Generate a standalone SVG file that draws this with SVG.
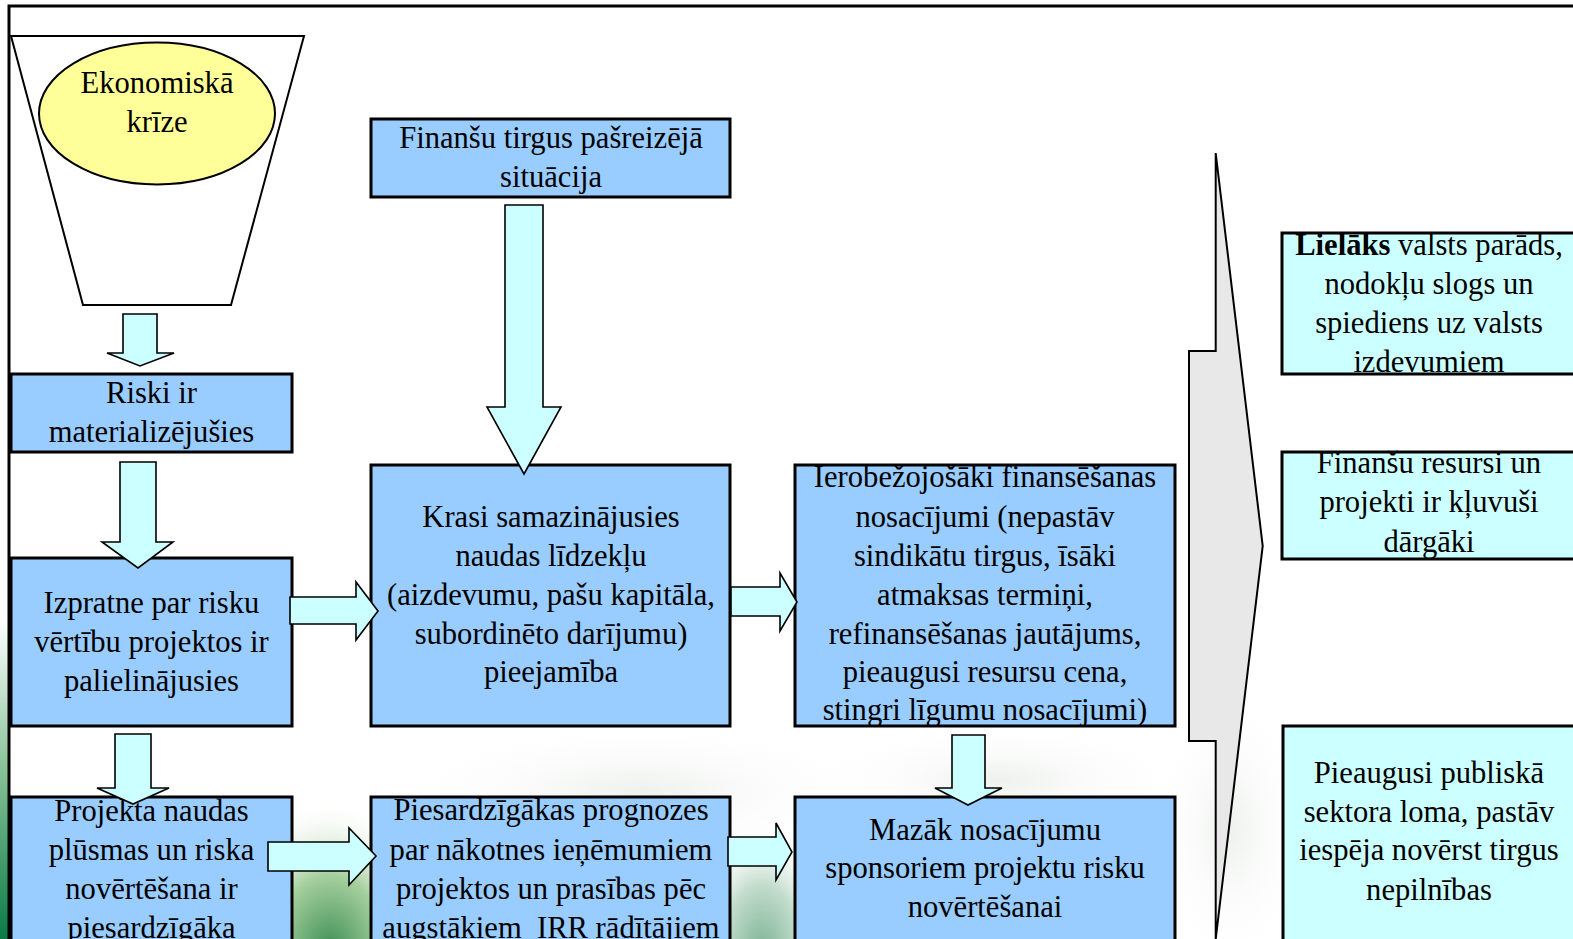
<svg xmlns="http://www.w3.org/2000/svg" width="1573" height="939" viewBox="0 0 1573 939">
<defs>
<style>
.box{fill:#99CCFF;stroke:#000;stroke-width:3}
.rbox{fill:#CCFFFF;stroke:#000;stroke-width:3}
.arr{fill:#CCFFFF;stroke:#000;stroke-width:1.6;stroke-linejoin:miter}
.t{font-family:"Liberation Serif","Times New Roman",serif;font-size:30.6px;fill:#000;text-anchor:middle}
</style>
<linearGradient id="gLeft" x1="0" y1="0" x2="0" y2="1">
<stop offset="0" stop-color="#ffffff"/>
<stop offset="0.45" stop-color="#8cc49a"/>
<stop offset="1" stop-color="#0a7a48"/>
</linearGradient>
<radialGradient id="gGreen" cx="0.5" cy="0.5" r="0.5">
<stop offset="0" stop-color="#3f8f55"/>
<stop offset="0.5" stop-color="#a6d09e"/>
<stop offset="1" stop-color="#ffffff" stop-opacity="0"/>
</radialGradient>
<radialGradient id="gTeal" cx="0.5" cy="0.5" r="0.5">
<stop offset="0" stop-color="#7fb496"/>
<stop offset="0.5" stop-color="#c2dccb"/>
<stop offset="1" stop-color="#ffffff" stop-opacity="0"/>
</radialGradient>
<radialGradient id="gFog" cx="0.5" cy="0.5" r="0.5">
<stop offset="0" stop-color="#eef1ee"/>
<stop offset="1" stop-color="#ffffff" stop-opacity="0"/>
</radialGradient>
</defs>

<g id="background">
<rect x="0" y="0" width="1573" height="939" fill="#ffffff"/>
<rect x="0" y="620" width="10" height="319" fill="url(#gLeft)"/>
<ellipse cx="640" cy="790" rx="260" ry="70" fill="url(#gFog)"/>
<ellipse cx="1000" cy="780" rx="200" ry="60" fill="url(#gFog)"/>
<ellipse cx="1230" cy="830" rx="80" ry="150" fill="url(#gFog)"/>
<ellipse cx="330" cy="950" rx="110" ry="150" fill="url(#gGreen)"/>
<ellipse cx="762" cy="950" rx="75" ry="130" fill="url(#gTeal)"/>
</g>

<g id="frame">
<path d="M9,939 V6 H1573" fill="none" stroke="#000" stroke-width="3"/>
</g>

<g id="big-arrow">
<polygon points="1215.7,153 1262.7,546 1215.7,939 1215.7,741 1189,741 1189,351 1215.7,351" fill="#E8E8E8" stroke="#000" stroke-width="2"/>
</g>

<g id="node-krize">
<polygon points="11,36 304,36 231,305 83,305" fill="#ffffff" stroke="#000" stroke-width="2"/>
<ellipse cx="157" cy="113.5" rx="118" ry="71" fill="#FFFF99" stroke="#000" stroke-width="2"/>
<text class="t" x="157" y="93">Ekonomiskā</text>
<text class="t" x="157" y="132">krīze</text>
</g>

<g id="node-riski">
<rect class="box" x="11" y="374" width="281" height="78"/>
<text class="t" x="151.5" y="403">Riski ir</text>
<text class="t" x="151.5" y="442">materializējušies</text>
</g>

<g id="node-izpratne">
<rect class="box" x="11" y="558" width="281" height="168"/>
<text class="t" x="151.5" y="613">Izpratne par risku</text>
<text class="t" x="151.5" y="652">vērtību projektos ir</text>
<text class="t" x="151.5" y="691">palielinājusies</text>
</g>

<g id="node-projekta">
<rect class="box" x="11" y="797" width="281" height="170"/>
</g>

<g id="node-finansu-tirgus">
<rect class="box" x="371" y="119" width="359" height="78"/>
<text class="t" x="551" y="148">Finanšu tirgus pašreizējā</text>
<text class="t" x="551" y="187">situācija</text>
</g>

<g id="node-krasi">
<rect class="box" x="371" y="465" width="359" height="261"/>
<text class="t" x="551" y="527">Krasi samazinājusies</text>
<text class="t" x="551" y="566">naudas līdzekļu</text>
<text class="t" x="551" y="605">(aizdevumu, pašu kapitāla,</text>
<text class="t" x="551" y="644">subordinēto darījumu)</text>
<text class="t" x="551" y="682">pieejamība</text>
</g>

<g id="node-piesardzigakas">
<rect class="box" x="371" y="797" width="359" height="170"/>
<text class="t" x="551" y="820">Piesardzīgākas prognozes</text>
<text class="t" x="551" y="860">par nākotnes ieņēmumiem</text>
<text class="t" x="551" y="899">projektos un prasības pēc</text>
<text class="t" x="551" y="938" xml:space="preserve" style="white-space:pre">augstākiem  IRR rādītājiem</text>
</g>

<g id="node-ierobezojosaki">
<rect class="box" x="795" y="465" width="380" height="261"/>
<text class="t" x="985" y="487">Ierobežojošāki finansēšanas</text>
<text class="t" x="985" y="527">nosacījumi (nepastāv</text>
<text class="t" x="985" y="566">sindikātu tirgus, īsāki</text>
<text class="t" x="985" y="605">atmaksas termiņi,</text>
<text class="t" x="985" y="644">refinansēšanas jautājums,</text>
<text class="t" x="985" y="682">pieaugusi resursu cena,</text>
<text class="t" x="985" y="720">stingri līgumu nosacījumi)</text>
</g>

<g id="node-mazak">
<rect class="box" x="795" y="797" width="380" height="170"/>
<text class="t" x="985" y="840">Mazāk nosacījumu</text>
<text class="t" x="985" y="878">sponsoriem projektu risku</text>
<text class="t" x="985" y="917">novērtēšanai</text>
</g>

<g id="node-lielaks">
<rect class="rbox" x="1282" y="233" width="320" height="141"/>
<text class="t" x="1429" y="255"><tspan font-weight="bold">Lielāks</tspan> valsts parāds,</text>
<text class="t" x="1429" y="294">nodokļu slogs un</text>
<text class="t" x="1429" y="333">spiediens uz valsts</text>
<text class="t" x="1429" y="372">izdevumiem</text>
</g>

<g id="node-dargaki">
<rect class="rbox" x="1282" y="452" width="320" height="107"/>
<text class="t" x="1429" y="473">Finanšu resursi un</text>
<text class="t" x="1429" y="512">projekti ir kļuvuši</text>
<text class="t" x="1429" y="552">dārgāki</text>
</g>

<g id="node-publiska">
<rect class="rbox" x="1283" y="726" width="320" height="240"/>
<text class="t" x="1429" y="783">Pieaugusi publiskā</text>
<text class="t" x="1429" y="822">sektora loma, pastāv</text>
<text class="t" x="1429" y="860">iespēja novērst tirgus</text>
<text class="t" x="1429" y="900">nepilnības</text>
</g>

<g id="connectors">
<polygon class="arr" points="123,314 157,314 157,353 174,353 140,366 107,353 123,353"/>
<polygon class="arr" points="120,462 156,462 156,542 173,542 138,568 102,542 120,542"/>
<polygon class="arr" points="115,734 151,734 151,788 169,788 133,804 97,788 115,788"/>
<polygon class="arr" points="505,205 543,205 543,407 561,407 524,474 487,407 505,407"/>
<polygon class="arr" points="952,735 985,735 985,788 1002,788 968,805 935,788 952,788"/>
<polygon class="arr" points="290,597 356,597 356,582 378,611 356,640 356,624 290,624"/>
<polygon class="arr" points="268,842 349,842 349,828 376,856 349,885 349,871 268,871"/>
<polygon class="arr" points="731,587 780,587 780,573 797,602 780,631 780,616 731,616"/>
<polygon class="arr" points="728,837 776,837 776,823 792,852 776,880 776,866 728,866"/>
</g>

<g id="node-projekta-text">
<text class="t" x="151.5" y="821">Projekta naudas</text>
<text class="t" x="151.5" y="860">plūsmas un riska</text>
<text class="t" x="151.5" y="899">novērtēšana ir</text>
<text class="t" x="151.5" y="938">piesardzīgāka</text>
</g>
</svg>
